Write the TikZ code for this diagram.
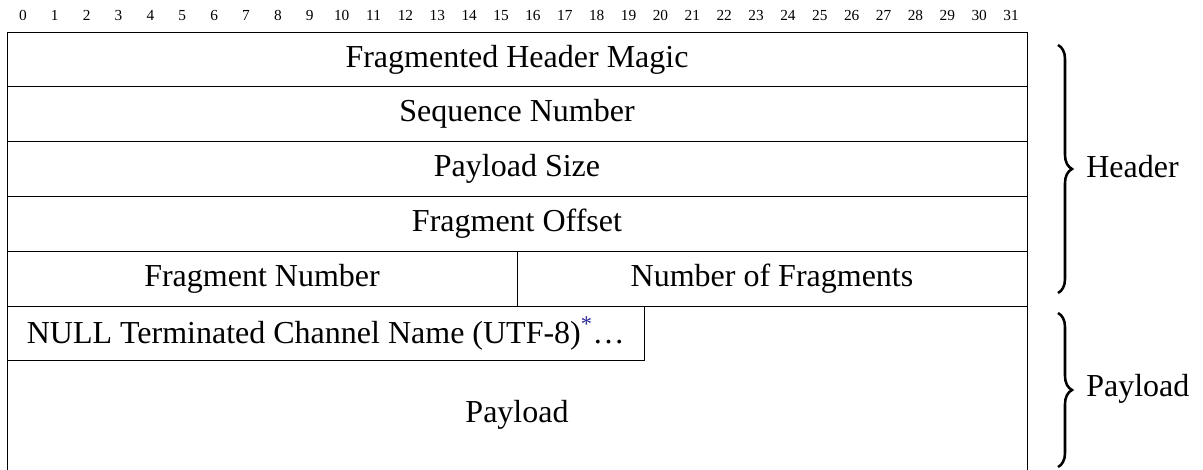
\documentclass[tikz,border=0pt]{standalone}
\usepackage{fontspec}
\setmainfont{Liberation Serif}
\usepackage{xcolor}
\usetikzlibrary{decorations.pathreplacing}
\definecolor{linkblue}{RGB}{40,40,150}
\begin{document}
\begin{tikzpicture}[x=0.75pt,y=-0.75pt,
  field/.style={draw, line width=0.6pt, inner sep=0pt, outer sep=0pt,
    anchor=north west, minimum height=41.1pt, font=\fontsize{24}{28}\selectfont},
  full/.style={field, minimum width=765pt},
  half/.style={field, minimum width=382.5pt},
  bitnum/.style={inner sep=0pt, anchor=base, font=\fontsize{11.5}{13}\selectfont},
  side/.style={inner sep=0pt, anchor=west, font=\fontsize{24}{28}\selectfont},
  groupbrace/.style={decorate, decoration={brace, amplitude=10.5pt},
    line width=1.9pt}]
  \useasboundingbox (0,0) rectangle (1203,469);

  % bit positions 0..31
  \foreach \i in {0,...,31}
    \node[bitnum] (b\i) at ({7+31.875*(\i+0.5)},20.5) {\i};

  % header words
  \node[full] (magic)  at (7,32)    {Fragmented Header Magic};
  \node[full] (seq)    at (7,86.8)  {Sequence Number};
  \node[full] (size)   at (7,141.6) {Payload Size};
  \node[full] (offset) at (7,196.4) {Fragment Offset};
  \node[half] (fnum)   at (7,251.2) {Fragment Number};
  \node[half] (fcount) at (517,251.2) {Number of Fragments};

  % payload area, open at the bottom
  \node[field, minimum width=478.125pt] (chan) at (7,306)
    {NULL Terminated Channel Name (UTF-8)\textsuperscript{\textcolor{linkblue}{*}}\dots};
  \coordinate (pl) at (7,470);
  \coordinate (pr) at (1027,470);
  \draw[line width=0.6pt] (fnum.south west) -- (pl);
  \draw[line width=0.6pt] (fcount.south east) -- (pr);
  \node[font=\fontsize{24}{28}\selectfont] (payload) at (517,415) {Payload};

  % group braces
  \coordinate (ht) at (1058,45);
  \coordinate (hb) at (1058,293);
  \coordinate (pt) at (1058,313);
  \coordinate (pb) at (1058,467);
  \draw[groupbrace] (ht) -- (hb);
  \draw[groupbrace] (pt) -- (pb);
  \node[side] (hlabel) at (1086,167) {Header};
  \node[side] (plabel) at (1086,389) {Payload};
\end{tikzpicture}
\end{document}
